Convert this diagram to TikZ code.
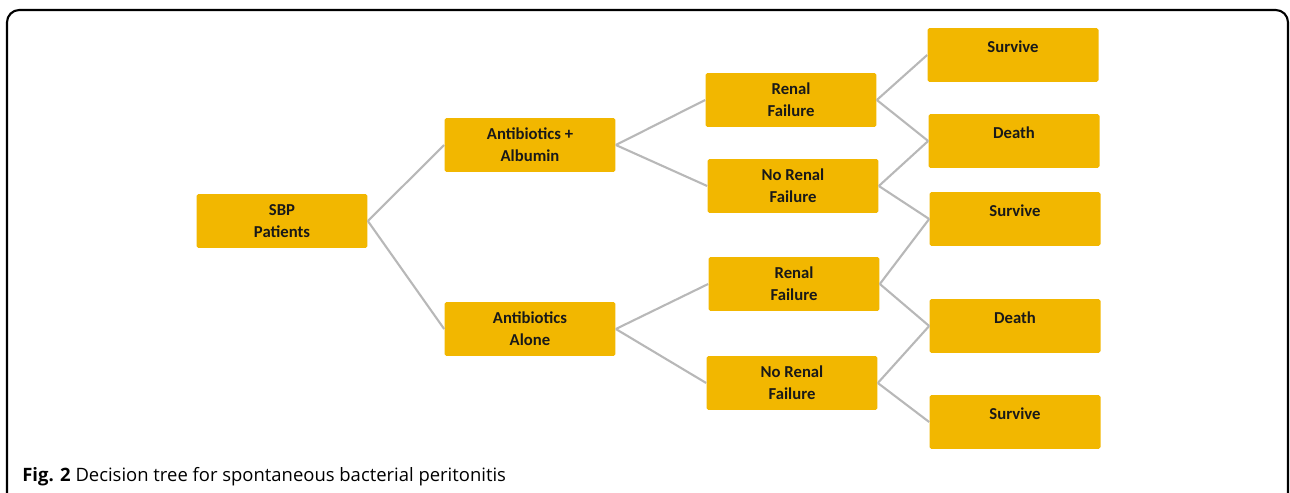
\documentclass[tikz,border=0pt]{standalone}
\usepackage{fontspec}
\setmainfont{Carlito}
\newfontfamily\capfont{Open Sans}
\definecolor{boxgold}{RGB}{242,183,0}
\definecolor{linegray}{RGB}{184,184,184}
\tikzset{
  box/.style={fill=boxgold,rounded corners=1pt,minimum width=3.42cm,minimum height=1.08cm,
    font=\bfseries\fontsize{9.5}{12.5}\selectfont,text=black!90,align=center,inner sep=0pt},
  outbox/.style={box,text height=13.6pt,text depth=17pt},
  edge/.style={linegray,line width=1.2pt}
}
\begin{document}
\begin{tikzpicture}[x=0.02cm,y=-0.02cm]
  \useasboundingbox (0,0) rectangle (1290,493);
  \draw[line width=1.2pt,rounded corners=7pt] (7,500) -- (7,10) -- (1288,10) -- (1288,500);

  \node[box] (sbp) at (282,221) {SBP\\Patients};
  \node[box] (abal) at (530,145) {Antibiotics +\\Albumin};
  \node[box] (abon) at (530,329) {Antibiotics\\Alone};

  \node[box] (rf1) at (791,100) {Renal\\Failure};
  \node[box] (nrf1) at (793,186) {No Renal\\Failure};
  \node[box] (rf2) at (794,284) {Renal\\Failure};
  \node[box] (nrf2) at (792,383) {No Renal\\Failure};

  \node[outbox] (sv1) at (1013,55) {Survive};
  \node[outbox] (dt1) at (1014,141) {Death};
  \node[outbox] (sv2) at (1015,219) {Survive};
  \node[outbox] (dt2) at (1015,326) {Death};
  \node[outbox] (sv3) at (1015,422) {Survive};

  \draw[edge] (sbp.east) -- (abal.west);
  \draw[edge] (sbp.east) -- (abon.west);
  \draw[edge] (abal.east) -- (rf1.west);
  \draw[edge] (abal.east) -- (nrf1.west);
  \draw[edge] (abon.east) -- (rf2.west);
  \draw[edge] (abon.east) -- (nrf2.west);
  \draw[edge] (rf1.east) -- (sv1.west);
  \draw[edge] (rf1.east) -- (dt1.west);
  \draw[edge] (nrf1.east) -- (dt1.west);
  \draw[edge] (nrf1.east) -- (sv2.west);
  \draw[edge] (rf2.east) -- (sv2.west);
  \draw[edge] (rf2.east) -- (dt2.west);
  \draw[edge] (nrf2.east) -- (dt2.west);
  \draw[edge] (nrf2.east) -- (sv3.west);

  \node[anchor=west,inner sep=0pt,font=\capfont\fontsize{10.5}{12}\selectfont] (cap) at (22,477)
    {\textbf{Fig. 2} Decision tree for spontaneous bacterial peritonitis};
\end{tikzpicture}
\end{document}
